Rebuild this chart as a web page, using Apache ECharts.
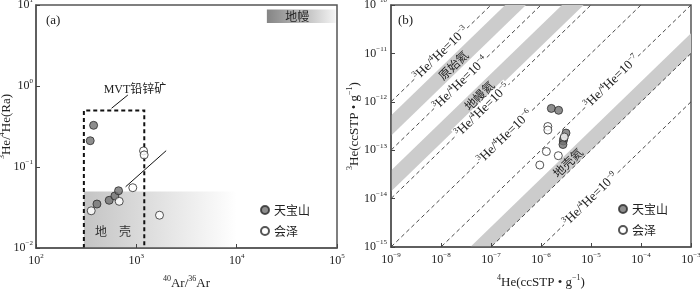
<!DOCTYPE html>
<html><head><meta charset="utf-8">
<script src="https://cdn.jsdelivr.net/npm/echarts@6/dist/echarts.min.js"></script>
<style>html,body{margin:0;padding:0;background:#fff}#c{width:700px;height:289px}</style>
</head><body><div id="c"></div>
<script>
// ---------------- data (a) ----------------
const tbsAr = [375, 347, 405, 536, 611, 665];
const tbsRa = [0.327, 0.211, 0.0349, 0.0388, 0.0439, 0.0509];
const hzAr = [1180, 1197, 922, 675, 355, 1702];
const hzRa = [0.158, 0.141, 0.0555, 0.0377, 0.0288, 0.0254];
const trendAr = [782, 1983];
const trendRa = [0.057, 0.159];
const leaderAr = [823, 566];
const leaderRa = [0.774, 0.531];
const mvtAr = [300, 1200];
const mvtRa = [0.01, 0.5];
const crustAr = [300, 10000];
const crustRa = [0.01, 0.05];
const mantleAr = [20000, 97000];
const mantleRa = [6, 8.8];
// ---------------- data (b) ----------------
const tbsHe4 = [1.61e-6, 2.25e-6, 3.16e-6, 2.86e-6, 2.79e-6, 2.75e-6];
const tbsHe3 = [7.3e-13, 6.67e-13, 2.26e-13, 1.75e-13, 1.55e-13, 1.31e-13];
const hzHe4 = [1.37e-6, 1.37e-6, 1.28e-6, 2.22e-6, 9.46e-7, 2.92e-6];
const hzHe3 = [3.09e-13, 2.61e-13, 9.4e-14, 7.7e-14, 4.94e-14, 1.87e-13];
const ratioLines = [1e-3, 1e-4, 1e-5, 1e-6, 1e-7, 1e-8, 1e-9];
const ratioExp = [-3, -4, -5, -6, -7, -8, -9];
const bandNames = ['原始氦', '地幔氦', '地壳氦'];
const bandHigh = [5.2e-4, 3.8e-5, 2.6e-8];
const bandLow = [2.0e-4, 1.4e-5, 1.0e-8];

// ---------------- styling ----------------
const SERIF = "'Liberation Serif','DejaVu Serif','Noto Sans CJK SC',serif";
const CJK = "'Noto Sans CJK SC',sans-serif";
const TXT = '#222';
const rich = {
  n: {fontFamily: SERIF, fontSize: 13, color: TXT, lineHeight: 17},
  s: {fontFamily: SERIF, fontSize: 8, color: TXT, lineHeight: 9, verticalAlign: 'top'}
};
const tickRich = {
  n: {fontFamily: SERIF, fontSize: 12, color: TXT, lineHeight: 16},
  s: {fontFamily: SERIF, fontSize: 7, color: TXT, lineHeight: 8, verticalAlign: 'top'}
};
const zrich = {
  n: {fontFamily: SERIF, fontSize: 13, fill: TXT, lineHeight: 15},
  s: {fontFamily: SERIF, fontSize: 8, fill: TXT, lineHeight: 8, verticalAlign: 'top'}
};
const neg = e => (e < 0 ? '−' + (-e) : '' + e);
const pow10 = v => '{n|10}{s|' + neg(Math.round(Math.log10(v))) + '}';

// annotation placement (b): label centre given by 4He value on each line / band
const lineLabelAt = {0: 1e-8, 1: 2.43e-8, 2: 6.7e-8, 3: 1.89e-7, 4: 2.6e-5, 6: 9.7e-6};
const bandLabelAt = [1.76e-8, 5.8e-8, 3.44e-6];

const filledStyle = {color: '#727272', borderColor: '#2a2a2a', borderWidth: 1};
const openStyle = {color: '#ffffff', borderColor: '#2a2a2a', borderWidth: 1};

function axisCommon(margin) {
  return {
    type: 'log', logBase: 10, z: 5,
    axisLine: {show: true, lineStyle: {color: '#555', width: 1.5}},
    axisTick: {inside: true, length: 4, lineStyle: {color: '#444'}},
    splitLine: {show: false},
    axisLabel: {formatter: pow10, rich: tickRich, margin: margin},
    nameLocation: 'middle',
    nameMoveOverlap: false,
    nameTextStyle: {rich: rich}
  };
}

const chart = echarts.init(document.getElementById('c'), null, {renderer: 'canvas'});

const option = {
  animation: false,
  backgroundColor: '#fff',
  grid: [
    {left: 36, top: 5, width: 301, height: 243, show: true, borderColor: '#555', borderWidth: 1.5,
     containLabel: false, outerBoundsMode: 'none'},
    {left: 391, top: 5, width: 300, height: 242, show: true, borderColor: '#555', borderWidth: 1.5,
     containLabel: false, outerBoundsMode: 'none'}
  ],
  xAxis: [
    Object.assign(axisCommon(5), {gridIndex: 0, min: 100, max: 1e5, name: '{s|40}{n|Ar/}{s|36}{n|Ar}', nameGap: 27}),
    Object.assign(axisCommon(5), {gridIndex: 1, min: 1e-9, max: 1e-3, name: '{s|4}{n|He(ccSTP • g}{s|−1}{n|)}', nameGap: 27})
  ],
  yAxis: [
    Object.assign(axisCommon(3), {gridIndex: 0, min: 0.01, max: 10, name: '{s|3}{n|He/}{s|4}{n|He(Ra)}', nameGap: 21}),
    Object.assign(axisCommon(4), {gridIndex: 1, min: 1e-15, max: 1e-10, name: '{s|3}{n|He(ccSTP • g}{s|−1}{n|)}', nameGap: 28})
  ],
  legend: [
    {data: ['天宝山', '会泽'], left: 255, top: 199, orient: 'vertical', itemGap: 9, itemWidth: 8, itemHeight: 8,
     textStyle: {fontFamily: CJK, fontSize: 12, color: TXT}, selectedMode: false},
    {data: ['天宝山', '会泽'], left: 613, top: 198, orient: 'vertical', itemGap: 9, itemWidth: 8, itemHeight: 8,
     textStyle: {fontFamily: CJK, fontSize: 12, color: TXT}, selectedMode: false}
  ],
  graphic: [
    {type: 'text', left: 46, top: 14, style: {text: '(a)', font: "13px 'Liberation Serif'", fill: TXT}},
    {type: 'text', left: 398, top: 14, style: {text: '(b)', font: "13px 'Liberation Serif'", fill: TXT}},
    {type: 'text', x: 135, y: 90, style: {text: 'MVT铅锌矿', font: "12px 'Liberation Serif','Noto Sans CJK SC'", fill: TXT, align: 'center', verticalAlign: 'middle'}},
    {type: 'text', x: 113, y: 231, z: 10, style: {text: '地　壳', font: "12px 'Noto Sans CJK SC'", fill: '#333', align: 'center', verticalAlign: 'middle'}}
  ],
  series: [
    // ---- (a) crust field ----
    {type: 'custom', xAxisIndex: 0, yAxisIndex: 0, z: 1, clip: true,
     data: [[crustAr[0], crustRa[0], crustAr[1], crustRa[1]]],
     renderItem: (p, api) => {
       const a = api.coord([api.value(0), api.value(3)]);
       const b = api.coord([api.value(2), api.value(1)]);
       return {type: 'rect', shape: {x: a[0], y: a[1], width: b[0] - a[0], height: b[1] - a[1]},
         style: {fill: new echarts.graphic.LinearGradient(0, 0, 1, 0, [
           {offset: 0, color: '#c4c4c4'}, {offset: 0.35, color: '#d9d9d9'}, {offset: 1, color: '#ffffff'}])}};
     }},
    // ---- (a) mantle box ----
    {type: 'custom', xAxisIndex: 0, yAxisIndex: 0, z: 2, clip: true,
     data: [[mantleAr[0], mantleRa[0], mantleAr[1], mantleRa[1]]],
     renderItem: (p, api) => {
       const a = api.coord([api.value(0), api.value(3)]);
       const b = api.coord([api.value(2), api.value(1)]);
       return {type: 'group', children: [
         {type: 'rect', shape: {x: a[0], y: a[1], width: b[0] - a[0], height: b[1] - a[1]},
          style: {fill: new echarts.graphic.LinearGradient(0, 0, 1, 0, [
            {offset: 0, color: '#858585'}, {offset: 0.5, color: '#b8b8b8'}, {offset: 1, color: '#f4f4f4'}])}},
         {type: 'text', x: a[0] + (b[0] - a[0]) * 0.44, y: (a[1] + b[1]) / 2,
          style: {text: '地幔', font: "12px 'Noto Sans CJK SC'", fill: '#222', align: 'center', verticalAlign: 'middle'}}
       ]};
     }},
    // ---- (a) MVT dashed box ----
    {type: 'custom', xAxisIndex: 0, yAxisIndex: 0, z: 3, clip: false,
     data: [[mvtAr[0], mvtRa[0], mvtAr[1], mvtRa[1]]],
     renderItem: (p, api) => {
       const p0 = api.coord([api.value(0), api.value(1)]);
       const p1 = api.coord([api.value(0), api.value(3)]);
       const p2 = api.coord([api.value(2), api.value(3)]);
       const p3 = api.coord([api.value(2), api.value(1)]);
       return {type: 'polyline', shape: {points: [p0, p1, p2, p3]},
         style: {fill: null, stroke: '#111', lineWidth: 2, lineDash: [4, 3]}};
     }},
    {type: 'line', xAxisIndex: 0, yAxisIndex: 0, z: 4, symbol: 'none', silent: true,
     data: trendAr.map((v, i) => [v, trendRa[i]]), lineStyle: {color: '#111', width: 1}},
    {type: 'line', xAxisIndex: 0, yAxisIndex: 0, z: 4, symbol: 'none', silent: true,
     data: leaderAr.map((v, i) => [v, leaderRa[i]]), lineStyle: {color: '#111', width: 1}},
    {name: '天宝山', type: 'scatter', xAxisIndex: 0, yAxisIndex: 0, z: 6, symbolSize: 8,
     itemStyle: filledStyle, data: tbsAr.map((v, i) => [v, tbsRa[i]])},
    {name: '会泽', type: 'scatter', xAxisIndex: 0, yAxisIndex: 0, z: 6, symbolSize: 8,
     itemStyle: openStyle, data: hzAr.map((v, i) => [v, hzRa[i]])},

    // ---- (b) helium bands ----
    {type: 'custom', xAxisIndex: 1, yAxisIndex: 1, z: 1, clip: true,
     data: bandHigh.map((h, i) => [h, bandLow[i]]),
     renderItem: (p, api) => {
       const h = api.value(0), l = api.value(1);
       const x0 = 1e-10, x1 = 1e-2;
       const pts = [api.coord([x0, h * x0]), api.coord([x1, h * x1]), api.coord([x1, l * x1]), api.coord([x0, l * x0])];
       return {type: 'polygon', shape: {points: pts}, style: {fill: '#cccccc'}};
     }},
    // ---- (b) iso-ratio dashed lines ----
    {type: 'custom', xAxisIndex: 1, yAxisIndex: 1, z: 2, clip: true,
     data: ratioLines.map(r => [r, r]),
     renderItem: (p, api) => {
       const r = api.value(0);
       const x0 = 1e-10, x1 = 1e-2;
       const a = api.coord([x0, r * x0]), b = api.coord([x1, r * x1]);
       return {type: 'line', shape: {x1: a[0], y1: a[1], x2: b[0], y2: b[1]},
         style: {stroke: '#333', lineWidth: 0.9, lineDash: [4, 3]}};
     }},
    // ---- (b) line labels ----
    {type: 'custom', xAxisIndex: 1, yAxisIndex: 1, z: 3, clip: true,
     data: ratioLines.map((r, i) => [r, ratioExp[i], i]),
     renderItem: (p, api) => {
       const r = api.value(0), e = api.value(1), i = api.value(2);
       const at = lineLabelAt[i];
       if (at === undefined) return null;
       const c = api.coord([at, r * at]);
       const a = api.coord([1e-9, r * 1e-9]), b = api.coord([1e-3, r * 1e-3]);
       const ang = Math.atan2(a[1] - b[1], b[0] - a[0]);
       return {type: 'text', x: c[0], y: c[1], rotation: ang,
         style: {text: '{s|3}{n|He/}{s|4}{n|He=10}{s|' + neg(e) + '}', rich: zrich,
           align: 'center', verticalAlign: 'middle', backgroundColor: '#fff', padding: [0, 1]}};
     }},
    // ---- (b) band labels ----
    {type: 'custom', xAxisIndex: 1, yAxisIndex: 1, z: 4, clip: true,
     data: bandHigh.map((h, i) => [h, bandLow[i], i]),
     renderItem: (p, api) => {
       const h = api.value(0), l = api.value(1), i = api.value(2);
       const r = Math.sqrt(h * l);
       const at = bandLabelAt[i];
       const c = api.coord([at, r * at]);
       const a = api.coord([1e-9, r * 1e-9]), b = api.coord([1e-3, r * 1e-3]);
       const ang = Math.atan2(a[1] - b[1], b[0] - a[0]);
       return {type: 'text', x: c[0], y: c[1], rotation: ang,
         style: {text: bandNames[i], font: "12px 'Noto Sans CJK SC'", fill: '#222', align: 'center', verticalAlign: 'middle'}};
     }},
    {name: '天宝山', type: 'scatter', xAxisIndex: 1, yAxisIndex: 1, z: 6, symbolSize: 8,
     itemStyle: filledStyle, data: tbsHe4.map((v, i) => [v, tbsHe3[i]])},
    {name: '会泽', type: 'scatter', xAxisIndex: 1, yAxisIndex: 1, z: 6, symbolSize: 8,
     itemStyle: openStyle, data: hzHe4.map((v, i) => [v, hzHe3[i]])}
  ]
};
chart.setOption(option);
</script>
</body></html>
